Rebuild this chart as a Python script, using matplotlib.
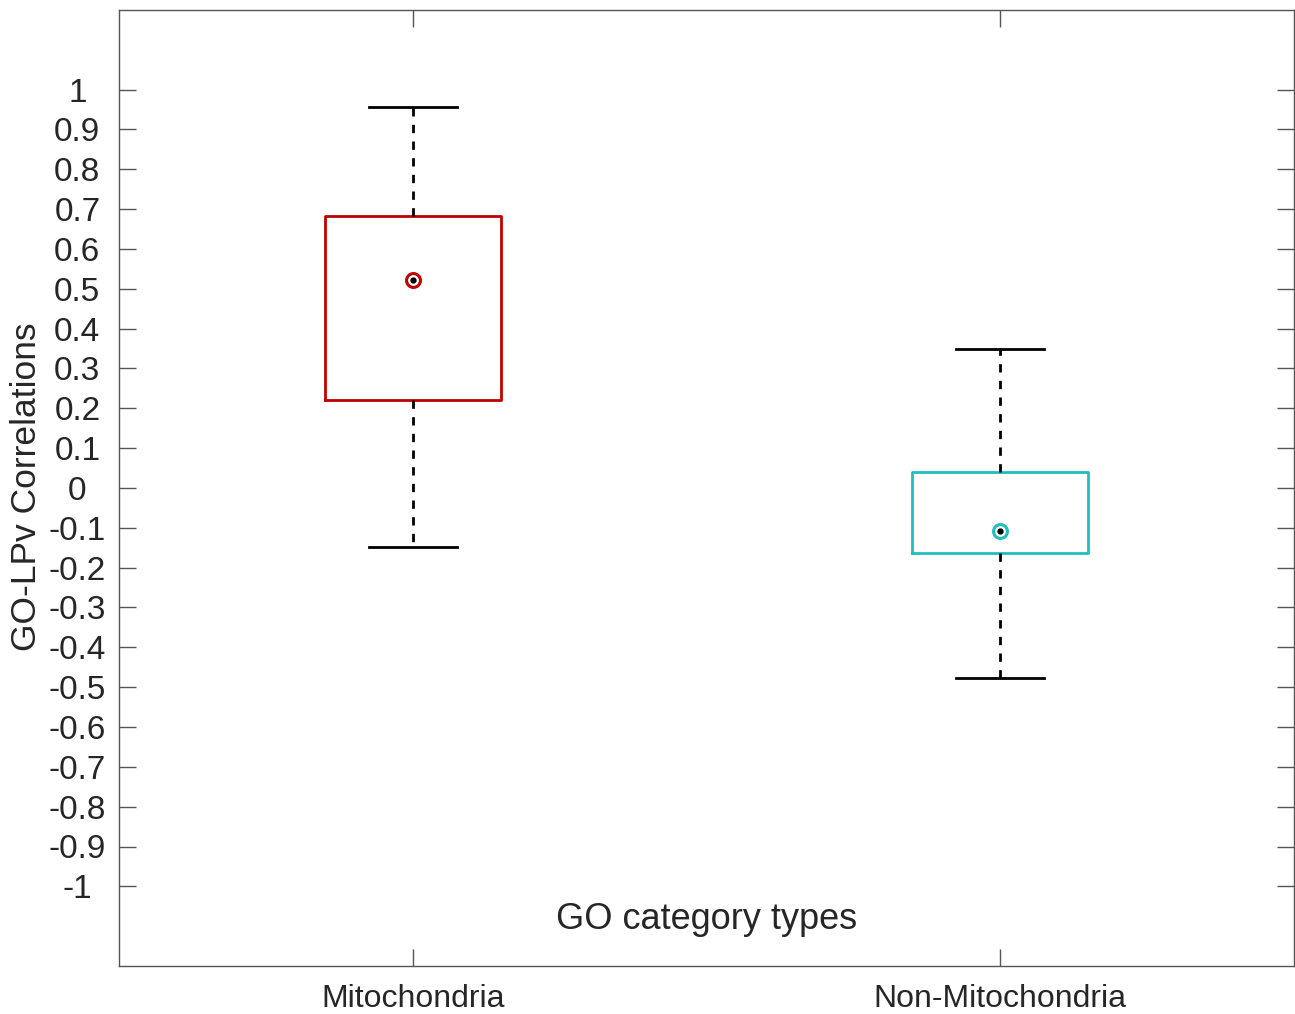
import matplotlib
matplotlib.use("Agg")
import matplotlib.pyplot as plt
import numpy as np

plt.rcParams['font.family'] = ['Liberation Sans', 'DejaVu Sans']

categories = ["Mitochondria", "Non-Mitochondria"]
q1 = [0.220, -0.164]
q3 = [0.683, 0.040]
medians = [0.521, -0.107]
whislo = [-0.149, -0.476]
whishi = [0.957, 0.348]
colors = ["#c00000", "#1fbfbf"]
yticks = [1, 0.9, 0.8, 0.7, 0.6, 0.5, 0.4, 0.3, 0.2, 0.1, 0, -0.1, -0.2, -0.3,
          -0.4, -0.5, -0.6, -0.7, -0.8, -0.9, -1]
ytick_labels = ["1", "0.9", "0.8", "0.7", "0.6", "0.5", "0.4", "0.3", "0.2", "0.1", "0",
                "-0.1", "-0.2", "-0.3", "-0.4", "-0.5", "-0.6", "-0.7", "-0.8", "-0.9", "-1"]

fig = plt.figure(figsize=(12.95, 10.14), dpi=100)
ax = fig.add_axes([119/1295, 1 - 966/1014, 1175/1295, 956/1014])

positions = [1, 2]
stats = []
for i in range(2):
    stats.append(dict(med=medians[i], q1=q1[i], q3=q3[i], whislo=whislo[i],
                      whishi=whishi[i], fliers=[], label=categories[i]))
bp = ax.bxp(stats, positions=positions, widths=0.3, showfliers=False,
            patch_artist=False, manage_ticks=False)
for i in range(2):
    bp['boxes'][i].set_color(colors[i])
    bp['boxes'][i].set_linewidth(2)
    bp['medians'][i].set_visible(False)
for w in bp['whiskers']:
    w.set_color('black')
    w.set_linestyle((0, (3, 3)))
    w.set_linewidth(2)
for c in bp['caps']:
    c.set_color('black')
    c.set_linewidth(2)
    xd = c.get_xdata()
    mid = (xd[0] + xd[1]) / 2
    c.set_xdata([mid - 0.075, mid + 0.075])

for i in range(2):
    ax.plot(positions[i], medians[i], 'o', markersize=10, markerfacecolor='white',
            markeredgecolor=colors[i], markeredgewidth=2.2, zorder=5)
    ax.plot(positions[i], medians[i], 'o', markersize=3.5, color='black', zorder=6)

ax.set_xlim(0.5, 2.5)
ax.set_ylim(-1.2, 1.2)
ax.set_yticks(yticks)
ax.set_yticklabels(ytick_labels)
ax.set_xticks(positions)
ax.set_xticklabels(categories)
ax.tick_params(axis='both', direction='in', length=12, width=1, color='#555555',
               labelsize=24, labelcolor='#262626', top=True, right=True)
ax.tick_params(axis='x', pad=13, labelsize=23)
ax.tick_params(axis='y', pad=30)
for lab in ax.get_yticklabels():
    lab.set_horizontalalignment('center')
for s in ax.spines.values():
    s.set_color('#555555')
    s.set_linewidth(1)

fig.text(27/1295, 1 - 487/1014, "GO-LPv Correlations", rotation=90, ha='center',
         va='center', fontsize=25.5, color='#262626')
ax.text(0.5, 0.049, "GO category types", transform=ax.transAxes, ha='center',
        va='center', fontsize=26, color='#262626')

fig.savefig("out.png", dpi=100)
